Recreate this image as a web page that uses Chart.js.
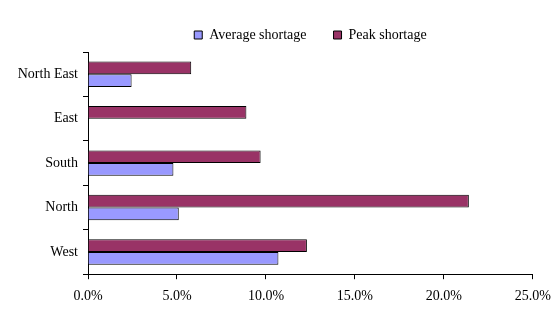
<!DOCTYPE html>
<html>
<head>
<meta charset="utf-8">
<script src="https://cdn.jsdelivr.net/npm/chart.js@4/dist/chart.umd.min.js"></script>
<style>
  html, body { margin: 0; padding: 0; background: #fff; }
  #wrap { width: 560px; height: 336px; }
</style>
</head>
<body>
<div id="wrap"><canvas id="myChart"></canvas></div>
<script>
// regions, top to bottom
const regions = ['North East', 'East', 'South', 'North', 'West'];
// shortage in percent
const averageShortage = [2.45, 0, 4.8, 5.1, 10.7];
const peakShortage = [5.8, 8.9, 9.7, 21.4, 12.3];
const xTicks = [0, 5, 10, 15, 20, 25];

Chart.defaults.font.family = '"Liberation Serif", "Times New Roman", serif';
Chart.defaults.font.size = 14;
Chart.defaults.color = '#000';

const ctx = document.getElementById('myChart').getContext('2d');
const chart = new Chart(ctx, {
    type: 'bar',
    data: {
        labels: regions,
        datasets: [{
            label: 'Peak shortage',
            data: peakShortage,
            backgroundColor: '#993366',
            borderColor: '#000',
            borderWidth: 1
        }, {
            label: 'Average shortage',
            data: averageShortage,
            backgroundColor: '#9999FF',
            borderColor: '#000',
            borderWidth: 1
        }]
    },
    options: {
        indexAxis: 'y',
        responsive: true,
        maintainAspectRatio: false,
        animation: false,
        categoryPercentage: 0.57,
        barPercentage: 1,
        layout: { padding: { top: 1, right: 24, bottom: 22, left: 0 } },
        plugins: {
            legend: {
                position: 'top',
                fullSize: false,
                reverse: true,
                maxHeight: 54,
                labels: {
                    boxWidth: 8,
                    boxHeight: 8,
                    padding: 27,
                    color: '#000'
                }
            },
            tooltip: { enabled: false }
        },
        scales: {
            x: {
                min: 0,
                max: 25,
                afterBuildTicks: function(scale) {
                    scale.ticks = xTicks.map(v => ({ value: v }));
                },
                ticks: {
                    callback: v => v.toFixed(1) + '%',
                    padding: 9,
                    maxRotation: 0
                },
                grid: { drawOnChartArea: false, color: '#000', tickLength: 5 },
                border: { color: '#000' }
            },
            y: {
                afterFit: function(scale) { scale.width = 88; },
                ticks: { padding: 5 },
                grid: { drawOnChartArea: false, color: '#000', tickLength: 5 },
                border: { color: '#000' }
            }
        }
    }
});
</script>
</body>
</html>
